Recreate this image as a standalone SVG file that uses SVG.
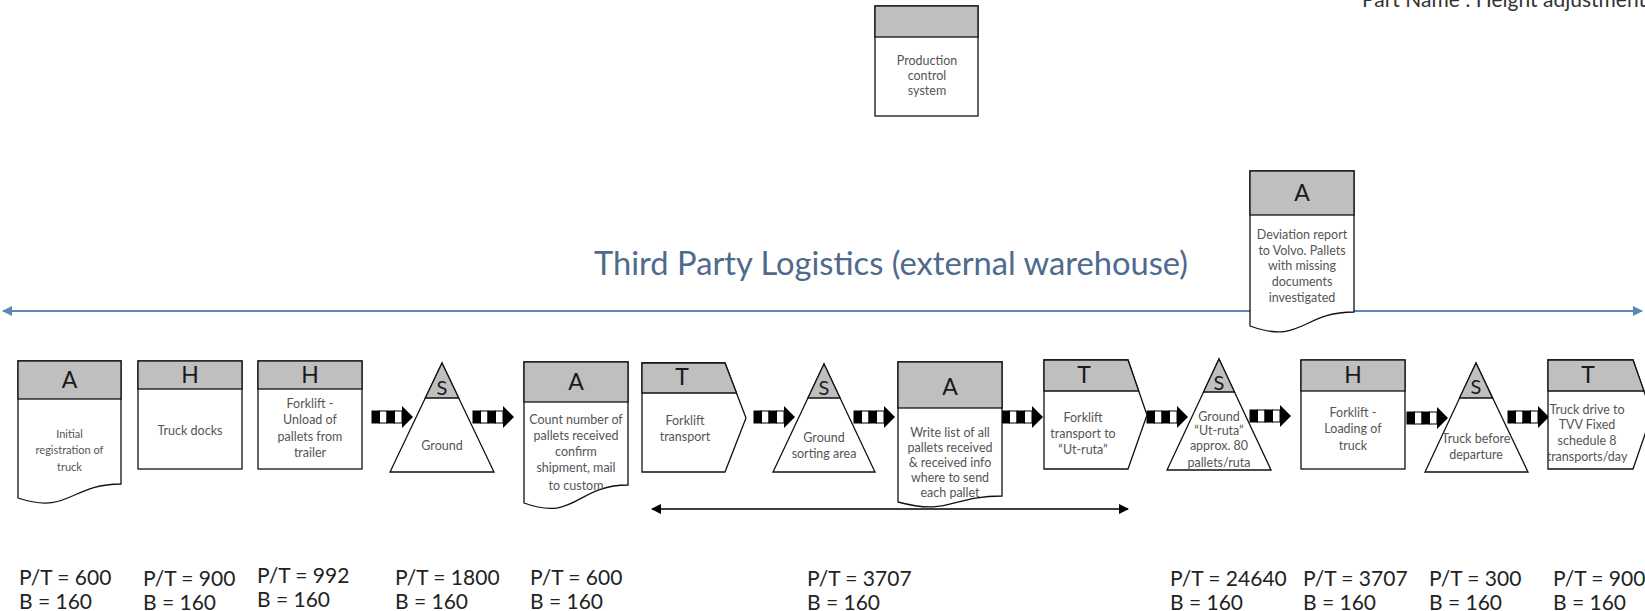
<svg xmlns="http://www.w3.org/2000/svg" width="1645" height="611" viewBox="0 0 1645 611">
<style>
.box{fill:#fff;stroke:#111;stroke-width:1.3}
.hdr{fill:#BFBFBF;stroke:#111;stroke-width:1.3}
.lt{font-family:Lato,"Liberation Sans",sans-serif;font-size:23px;fill:#1a1a1a;text-anchor:middle}
.bt{font-family:Lato,"Liberation Sans",sans-serif;font-size:12.5px;fill:#555;text-anchor:middle}
.num{font-family:Lato,"Liberation Sans",sans-serif;font-size:21px;fill:#222}
.title{font-family:Lato,"Liberation Sans",sans-serif;font-size:32.7px;fill:#4E6A8C}
</style>
<defs>
<g id="push">
<rect x="0" y="-6" width="7.5" height="12" fill="#000" stroke="#000" stroke-width="1"/>
<rect x="7.5" y="-6" width="7.5" height="12" fill="#fff" stroke="#000" stroke-width="1"/>
<rect x="15" y="-6" width="7.5" height="12" fill="#000" stroke="#000" stroke-width="1"/>
<rect x="22.5" y="-6" width="7.5" height="12" fill="#fff" stroke="#000" stroke-width="1"/>
<polygon points="30,-11 41,0 30,11" fill="#000"/>
</g>
<marker id="bl" viewBox="0 0 10 10" refX="9" refY="5" markerWidth="5" markerHeight="5" orient="auto-start-reverse"><path d="M0,0 L10,5 L0,10 Z" fill="#5B87B8"/></marker>
<marker id="bk" viewBox="0 0 10 10" refX="9" refY="5" markerWidth="7" markerHeight="7" orient="auto-start-reverse"><path d="M0,0 L10,5 L0,10 Z" fill="#000"/></marker>
</defs>
<rect width="1645" height="611" fill="#fff"/>
<text x="1362" y="7" style="font-family:Lato,'Liberation Sans',sans-serif;font-size:21px;fill:#333">Part Name : Height adjustment</text>
<text class="title" x="594" y="275">Third Party Logistics (external warehouse)</text>

<g id="connectors">
<line x1="3" y1="311" x2="1642" y2="311" stroke="#5B87B8" stroke-width="2" marker-start="url(#bl)" marker-end="url(#bl)"/>
<line x1="652" y1="509" x2="1128" y2="509" stroke="#000" stroke-width="1.5" marker-start="url(#bk)" marker-end="url(#bk)"/>
<use href="#push" x="372" y="417"/>
<use href="#push" x="473" y="417"/>
<use href="#push" x="754" y="417"/>
<use href="#push" x="854" y="417"/>
<use href="#push" x="1002" y="417"/>
<use href="#push" x="1147" y="417"/>
<use href="#push" x="1250" y="416"/>
<use href="#push" x="1407" y="418"/>
<use href="#push" x="1508" y="417"/>
</g>

<g id="pcs">
<rect class="box" x="875" y="6" width="103" height="110"/>
<rect class="hdr" x="875" y="6" width="103" height="31"/>
<text class="bt" x="927" y="65">Production</text>
<text class="bt" x="927" y="80">control</text>
<text class="bt" x="927" y="95">system</text>
</g>

<g id="a4">
<path class="box" d="M1250,171 H1354 V312 C1302,312 1302,345 1250,326 Z"/>
<rect class="hdr" x="1250" y="171" width="104" height="44"/>
<text class="lt" x="1302" y="201">A</text>
<text class="bt" x="1302" y="239">Deviation report</text>
<text class="bt" x="1302" y="255">to Volvo. Pallets</text>
<text class="bt" x="1302" y="270">with missing</text>
<text class="bt" x="1302" y="286">documents</text>
<text class="bt" x="1302" y="302">investigated</text>
</g>

<g id="a1">
<path class="box" d="M18,361 H121 V484 C69.5,484 69.5,515 18,498 Z"/>
<rect class="hdr" x="18" y="361" width="103" height="38"/>
<text class="lt" x="69.5" y="388">A</text>
<text class="bt" x="69.5" y="438" style="font-size:11px">Initial</text>
<text class="bt" x="69.5" y="454" style="font-size:11px">registration  of</text>
<text class="bt" x="69.5" y="471" style="font-size:11px">truck</text>
</g>

<g id="h1">
<rect class="box" x="138" y="361" width="104" height="108"/>
<rect class="hdr" x="138" y="361" width="104" height="28"/>
<text class="lt" x="190" y="383">H</text>
<text class="bt" x="190" y="435">Truck docks</text>
</g>

<g id="h2">
<rect class="box" x="258" y="361" width="104" height="108"/>
<rect class="hdr" x="258" y="361" width="104" height="28"/>
<text class="lt" x="310" y="383">H</text>
<text class="bt" x="310" y="408">Forklift -</text>
<text class="bt" x="310" y="424">Unload of</text>
<text class="bt" x="310" y="441">pallets from</text>
<text class="bt" x="310" y="457">trailer</text>
</g>

<g id="s1">
<polygon class="box" points="442,363 494,472 390,472"/>
<polygon class="hdr" points="442,363 458.7,398 425.3,398"/>
<text class="lt" x="442" y="395" style="font-size:20px">S</text>
<text class="bt" x="442" y="450">Ground</text>
</g>

<g id="a2">
<path class="box" d="M524,362 H628 V485 C576,485 576,522 524,503 Z"/>
<rect class="hdr" x="524" y="362" width="104" height="40"/>
<text class="lt" x="576" y="390">A</text>
<text class="bt" x="576" y="424">Count number of</text>
<text class="bt" x="576" y="440">pallets received</text>
<text class="bt" x="576" y="456">confirm</text>
<text class="bt" x="576" y="472">shipment, mail</text>
<text class="bt" x="576" y="490">to custom</text>
</g>

<g id="t1">
<path class="box" d="M642,363 H725 L746,418 L725,472 H642 Z"/>
<path class="hdr" d="M642,363 H725 L736.5,393 H642 Z"/>
<text class="lt" x="682" y="385">T</text>
<text class="bt" x="685" y="425">Forklift</text>
<text class="bt" x="685" y="441">transport</text>
</g>

<g id="s2">
<polygon class="box" points="824,364 875,472 773,472"/>
<polygon class="hdr" points="824,364 840.1,398 807.9,398"/>
<text class="lt" x="824" y="395" style="font-size:20px">S</text>
<text class="bt" x="824" y="442">Ground</text>
<text class="bt" x="824" y="458">sorting area</text>
</g>

<g id="a3">
<path class="box" d="M898,362 H1002 V496 C950,496 950,516 898,502 Z"/>
<rect class="hdr" x="898" y="362" width="104" height="46"/>
<text class="lt" x="950" y="395">A</text>
<text class="bt" x="950" y="437">Write list of all</text>
<text class="bt" x="950" y="452">pallets received</text>
<text class="bt" x="950" y="467">&amp; received  info</text>
<text class="bt" x="950" y="482">where to send</text>
<text class="bt" x="950" y="497">each pallet</text>
</g>

<g id="t2">
<path class="box" d="M1044,360 H1128 L1147,415 L1128,469 H1044 Z"/>
<path class="hdr" d="M1044,360 H1128 L1138.7,391 H1044 Z"/>
<text class="lt" x="1084" y="383">T</text>
<text class="bt" x="1083" y="422">Forklift</text>
<text class="bt" x="1083" y="438">transport to</text>
<text class="bt" x="1083" y="454">“Ut-ruta”</text>
</g>

<g id="s3">
<polygon class="box" points="1219,359 1271,470 1167,470"/>
<polygon class="hdr" points="1219,359 1234.5,392 1203.5,392"/>
<text class="lt" x="1219" y="390" style="font-size:20px">S</text>
<text class="bt" x="1219" y="421">Ground</text>
<text class="bt" x="1219" y="435">“Ut-ruta”</text>
<text class="bt" x="1219" y="450">approx. 80</text>
<text class="bt" x="1219" y="467">pallets/ruta</text>
</g>

<g id="h3">
<rect class="box" x="1301" y="360" width="104" height="109"/>
<rect class="hdr" x="1301" y="360" width="104" height="31"/>
<text class="lt" x="1353" y="383">H</text>
<text class="bt" x="1353" y="417">Forklift -</text>
<text class="bt" x="1353" y="433">Loading of</text>
<text class="bt" x="1353" y="450">truck</text>
</g>

<g id="s4">
<polygon class="box" points="1476,363 1528,472 1425,472"/>
<polygon class="hdr" points="1476,363 1492.5,398 1459.5,398"/>
<text class="lt" x="1476" y="394" style="font-size:20px">S</text>
<text class="bt" x="1476" y="443">Truck before</text>
<text class="bt" x="1476" y="459">departure</text>
</g>

<g id="t3">
<path class="box" d="M1548,360 H1633 L1652,414 L1633,469 H1548 Z"/>
<path class="hdr" d="M1548,360 H1633 L1644,391 H1548 Z"/>
<text class="lt" x="1588" y="383">T</text>
<text class="bt" x="1587" y="414">Truck drive to</text>
<text class="bt" x="1587" y="429">TVV Fixed</text>
<text class="bt" x="1587" y="445">schedule 8</text>
<text class="bt" x="1587" y="461">transports/day</text>
</g>

<g id="metrics">
<text class="num" x="19" y="585">P/T = 600</text><text class="num" x="19" y="609">B = 160</text>
<text class="num" x="143" y="586">P/T = 900</text><text class="num" x="143" y="610">B = 160</text>
<text class="num" x="257" y="583">P/T = 992</text><text class="num" x="257" y="607">B = 160</text>
<text class="num" x="395" y="585">P/T = 1800</text><text class="num" x="395" y="609">B = 160</text>
<text class="num" x="530" y="585">P/T = 600</text><text class="num" x="530" y="609">B = 160</text>
<text class="num" x="807" y="586">P/T = 3707</text><text class="num" x="807" y="610">B = 160</text>
<text class="num" x="1170" y="586">P/T = 24640</text><text class="num" x="1170" y="610">B = 160</text>
<text class="num" x="1303" y="586">P/T = 3707</text><text class="num" x="1303" y="610">B = 160</text>
<text class="num" x="1429" y="586">P/T = 300</text><text class="num" x="1429" y="610">B = 160</text>
<text class="num" x="1553" y="586">P/T = 900</text><text class="num" x="1553" y="610">B = 160</text>
</g>
</svg>
